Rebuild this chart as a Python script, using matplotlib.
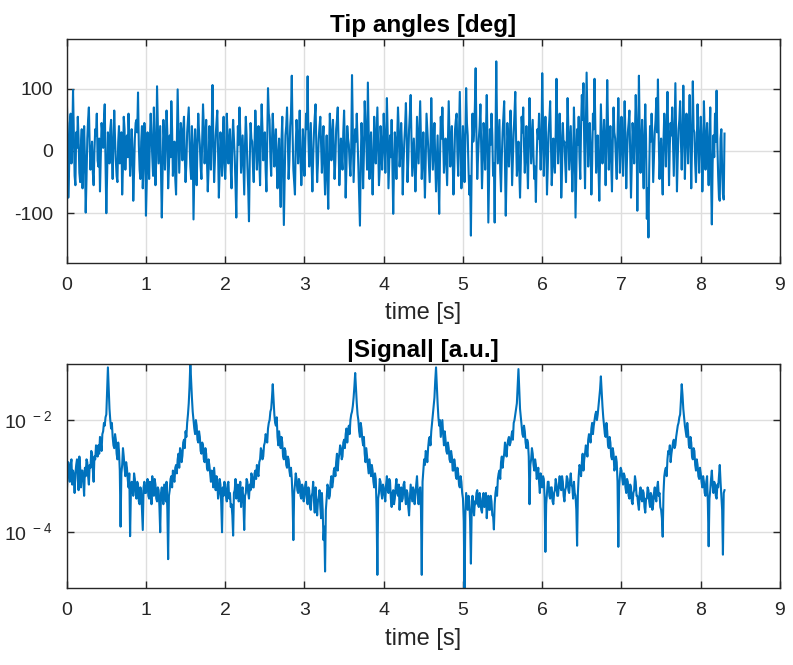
import numpy as np
import matplotlib
matplotlib.use("Agg")
import matplotlib.pyplot as plt

plt.rcParams['font.family'] = ['Liberation Sans', 'DejaVu Sans']
plt.rcParams['mathtext.fontset'] = 'custom'
plt.rcParams['mathtext.rm'] = 'Liberation Sans'
plt.rcParams['axes.unicode_minus'] = False

t_end = 8.3

tip_angles = [
    90, 40, -75, -30, 45, 60, -20, 15, 98, 25, -40, -55, 30, 5, 55, 20, -35, -50, 10, 35,
    -60, -20, 40, -10, -99, -45, 20, 50, 70, 10, -30, -5, 15, -35, -55, 0, 35, 25, 60, -15,
    -25, 20, -65, -10, 45, 30, 5, 50, 75, -20, -100, -40, 30, 10, -20, 35, 50, -5, -45, 15,
    65, 20, -15, -40, -50, 15, 40, -20, 10, 30, -70, -25, 55, 35, -30, 5, 25, -10, 60, 20,
    -40, -15, 35, 5, -80, -35, 20, 45, 50, 30, 94, 10, -30, -45, 15, 40, -60, -20, 45, 25,
    -104, -50, 30, 0, -45, 20, 60, 25, -10, -40, 70, 15, -55, -15, 104, 45, -20, 10, 40, -30,
    -107, -35, 50, 20, -30, 15, 65, 30, -60, -25, 25, -10, 80, 35, -40, -5, 15, -45, -70, 10,
    99, 30, -35, 5, 45, 20, -15, 35, 55, -10, -50, -20, 30, 50, 70, 15, -25, -45, 40, 10,
    -110, -40, 35, -5, -55, 15, 60, 30, 10, -25, -45, 20, 75, 40, -20, 10, 50, -15, -65, -30,
    40, 15, -30, 35, 106, 20, -50, -15, 25, 45, 65, 0, -75, -30, 30, 10, -40, 20, 55, -20,
    -45, -10, 60, 25, -20, 10, 35, -30, -60, 15, 50, 20, -10, -55, -107, -20, 40, 10, 70, 30,
    -35, -5, 25, -20, -70, 10, 55, 25, -25, -60, -113, -15, 45, 20, 15, -25, -50, 5, 65, 30,
    -30, 10, 40, -15, -55, 20, 75, 35, -15, 5, 30, -30, -65, 20, 101, 60, 50, -10, -40, 15,
    60, 25, -25, 10, 35, -20, -60, -5, 20, -40, -90, 15, 55, -30, -119, -45, 25, 40, 70, 20,
    -45, -15, 40, 60, 121, 30, -30, -50, -70, 10, 50, 25, -20, 15, 65, -10, -55, -25, 35, 5,
    -40, 15, 60, 35, 120, 20, -25, 10, 45, -20, -65, -10, 30, 55, 75, 5, -50, -20, 20, 40,
    55, 10, -35, 15, 40, -25, -70, -20, 25, -40, -93, -10, 60, 30, -15, 20, 50, 5, -45, -15,
    35, 50, 70, 15, -55, -20, 20, -10, -30, 30, 65, 10, -75, -25, 40, 20, 10, -20, -40, 5,
    122, 40, -50, -10, 35, 15, 60, 20, -25, -70, -120, -20, 45, 10, -60, -5, 80, 45, 15, -30,
    110, 30, -45, 10, 30, -20, -70, -15, 55, 20, -20, 25, 70, 10, -55, -30, 40, 15, -30, 5,
    60, 20, -35, 15, 85, 30, -60, -15, 25, -10, 50, -30, -101, -25, 30, 10, -45, 20, 70, 35,
    -25, -5, 45, 10, -70, -20, 15, 40, 77, 25, -50, -15, 35, 60, 90, 20, -40, -10, 20, -25,
    -65, -20, 55, 15, -20, 30, 80, 20, -45, -10, 30, -25, -75, -15, 60, 35, 10, -20, -50, 5,
    85, 30, -30, 10, 45, -15, -65, -20, 25, -40, -101, -10, 55, 20, 70, 15, -35, -5, 20, -20,
    -55, 10, 80, 25, -25, 15, 40, -15, -70, -30, 35, 50, 60, -5, -40, 30, 95, 20, -60, -25,
    40, 10, -50, 20, 101, 45, 25, -30, -70, -40, -136, -20, 60, 15, 30, 70, 133, 25, -45, -10,
    20, 40, 75, 10, -60, -15, 45, 20, -30, 30, 90, 15, -115, -40, 35, 10, 60, 25, -40, -20,
    -115, 10, 144, 40, -20, 15, 50, -30, -65, -10, 30, 55, 80, -20, -104, -35, 45, 20, -25, 10,
    65, 25, -55, -10, 30, 60, 95, 20, -40, -15, 15, -30, -75, -20, 55, 30, 70, 10, -35, 5,
    40, -15, -60, 20, 85, 35, -20, 15, 50, -10, -45, -25, -82, -10, 35, 20, 60, 15, -30, 10,
    125, 45, -40, 15, 55, 20, -70, -25, 30, 50, 80, 10, -55, -20, 20, -15, -35, 30, 116, 40,
    -20, 15, 60, 25, -75, -30, 45, 10, 15, -20, -50, 20, 85, 35, -30, 5, 40, -10, -65, -20,
    70, 20, -107, -35, 35, 10, 55, -10, -45, 40, 90, 50, 109, 10, -60, 30, 126, 45, -25, 15,
    45, 5, -70, -20, 60, 35, 116, 40, -35, 10, 25, -30, -80, -10, 75, 30, -20, 10, 50, 15,
    -55, 20, 114, 45, -30, 10, 40, -20, -65, 15, 70, 30, 20, -15, -45, 25, 85, 30, -35, 5,
    55, 15, -40, 20, 80, 25, -60, -10, 30, 45, 65, -5, -75, -20, 45, 20, -20, 30, 90, 35,
    -96, 15, 121, 30, -35, 10, 50, -15, -60, 25, 75, 20, -109, -60, -139, -30, 40, 15, 60, 25,
    -50, -10, 30, 50, 85, 30, 115, 20, -45, -5, 20, -30, -70, 15, 60, 25, -25, 40, 95, 30,
    -55, 10, 45, 25, 70, 15, -40, 30, 109, 20, -65, -10, 35, 50, 80, 15, -30, 25, 105, 40,
    -45, 15, 60, 30, -20, 40, 90, 20, -60, 10, 112, 35, 30, -20, -50, 15, 75, 25, -35, 10,
    55, 20, -65, -15, 80, 30, -30, 15, 45, -10, -55, 20, 70, -40, -118, -20, 25, -10, 60, 15,
    97, 10, -40, -75, -80, 20, 35, -30, -70, -78, 28,
]

# log10 of |Signal|
signal_log10 = [
    -3.35, -3.0, -2.75, -2.95, -3.1, -2.8, -2.7, -3.15, -2.9, -3.0, -3.3, -2.95, -2.8, -2.7, -3.05, -3.25, -2.65, -2.85, -3.2, -2.9,
    -2.9, -3.1, -3.35, -2.85, -3.0, -2.7, -2.75, -3.0, -3.15, -2.8, -2.85, -2.55, -2.6, -2.9, -3.1, -2.65, -2.7, -2.45, -2.5, -2.65,
    -2.45, -2.6, -2.3, -2.4, -2.55, -2.25, -2.2, -2.05, -2.1, -1.95, -1.9, -1.5, -1.06, -1.45, -1.8, -2.0, -2.15, -2.05, -2.3, -2.45,
    -2.5, -2.25, -2.35, -2.6, -2.7, -2.4, -2.55, -2.9, -3.9, -2.95, -2.8, -2.5, -2.65, -2.85, -3.0, -2.75, -2.85, -3.05, -3.2, -2.95,
    -4.07, -3.3, -3.1, -3.25, -3.35, -2.95, -3.05, -3.3, -3.4, -3.1, -3.15, -3.45, -3.5, -3.2, -3.25, -3.6, -3.96, -3.2, -3.1, -3.3,
    -3.3, -3.15, -3.05, -3.35, -3.4, -3.1, -3.2, -3.5, -3.0, -3.25, -3.35, -3.05, -3.15, -3.4, -3.45, -3.2, -3.25, -3.55, -4.0, -3.3,
    -3.2, -3.4, -3.5, -3.15, -3.3, -3.45, -3.1, -3.6, -4.48, -3.35, -3.25, -3.05, -3.0, -3.2, -2.9, -3.05, -3.1, -2.85, -2.8, -2.95,
    -2.7, -2.6, -2.85, -2.5, -2.55, -2.75, -2.64, -2.4, -2.35, -2.5, -2.2, -2.3, -2.05, -1.9, -1.7, -1.4, -0.98, -1.3, -1.6, -1.85,
    -2.0, -2.15, -2.25, -2.0, -2.1, -2.35, -2.4, -2.2, -2.3, -2.55, -2.6, -2.4, -2.45, -2.7, -2.75, -2.5, -2.6, -2.85, -2.9, -2.7,
    -2.8, -2.95, -3.1, -2.9, -3.0, -3.2, -2.85, -3.05, -3.25, -3.0, -3.1, -3.4, -3.3, -3.05, -3.15, -3.5, -4.0, -3.2, -3.35, -3.1,
    -3.2, -3.35, -3.45, -3.15, -3.1, -3.4, -3.3, -3.55, -3.5, -3.7, -4.06, -3.3, -3.25, -3.05, -3.4, -3.2, -3.15, -3.45, -3.35, -3.1,
    -3.55, -3.25, -3.2, -3.5, -3.96, -3.35, -3.3, -3.05, -3.1, -3.3, -3.4, -3.15, -3.25, -2.95, -3.0, -3.2, -3.2, -2.95, -2.9, -3.05,
    -2.8, -2.95, -3.0, -2.75, -2.7, -2.5, -2.55, -2.7, -2.65, -2.45, -2.4, -2.25, -2.3, -2.4, -2.15, -2.05, -2.0, -1.85, -1.8, -1.6,
    -1.36, -1.65, -1.9, -2.05, -2.1, -1.95, -2.3, -2.45, -2.2, -2.35, -2.5, -2.3, -2.4, -2.65, -2.7, -2.5, -2.55, -2.8, -2.85, -2.65,
    -2.7, -2.9, -3.0, -2.85, -3.05, -3.4, -4.14, -3.3, -3.15, -2.95, -3.05, -3.25, -3.3, -3.05, -3.1, -3.35, -3.4, -3.15, -3.2, -3.45,
    -3.35, -3.15, -3.1, -3.4, -3.5, -3.2, -3.25, -3.55, -3.6, -3.35, -3.3, -3.1, -3.45, -3.65, -3.2, -3.4, -3.7, -3.45, -3.4, -3.25,
    -3.55, -3.75, -3.3, -3.6, -4.14, -3.9, -4.7, -3.6, -3.4, -3.15, -3.2, -3.4, -3.35, -3.1, -3.0, -3.2, -3.1, -2.9, -2.85, -3.0,
    -2.75, -2.6, -2.9, -2.7, -2.6, -2.45, -2.5, -2.7, -2.65, -2.4, -2.35, -2.5, -2.25, -2.15, -2.4, -2.2, -2.1, -2.25, -2.0, -1.9,
    -1.85, -1.75, -1.6, -1.4, -1.16, -1.45, -1.7, -1.9, -2.0, -2.2, -2.3, -2.05, -2.15, -2.35, -2.45, -2.3, -2.6, -2.75, -2.5, -2.65,
    -2.8, -2.95, -2.7, -2.85, -3.0, -2.8, -2.9, -3.1, -3.2, -2.95, -3.05, -3.6, -4.76, -3.4, -3.3, -3.05, -3.1, -3.3, -3.4, -3.15,
    -3.2, -3.35, -3.45, -3.15, -3.0, -3.25, -3.3, -3.05, -3.1, -3.4, -3.55, -3.3, -3.25, -3.5, -3.4, -3.2, -3.05, -3.3, -3.35, -3.15,
    -3.6, -3.35, -3.2, -3.45, -3.4, -3.15, -3.1, -3.35, -3.5, -3.25, -3.3, -3.55, -3.7, -3.4, -3.15, -3.3, -3.45, -3.2, -3.25, -3.5,
    -3.35, -3.15, -3.0, -3.3, -3.5, -3.25, -3.2, -3.6, -4.76, -3.1, -2.9, -2.7, -2.8, -2.55, -2.6, -2.75, -2.5, -2.35, -2.3, -2.45,
    -2.2, -2.05, -1.9, -1.75, -1.6, -1.3, -1.06, -1.4, -1.7, -1.95, -2.1, -2.0, -2.3, -2.15, -2.0, -2.25, -2.45, -2.2, -2.35, -2.55,
    -2.6, -2.4, -2.5, -2.7, -2.75, -2.55, -2.65, -2.9, -2.9, -2.7, -2.8, -3.0, -3.05, -2.85, -2.95, -3.15, -3.2, -3.0, -3.1, -3.3,
    -3.4, -3.8, -5.1, -3.7, -3.3, -3.45, -3.6, -3.35, -3.45, -3.8, -4.56, -3.6, -3.35, -3.55, -3.7, -3.45, -3.5, -3.3, -3.25, -3.5,
    -3.55, -3.3, -3.4, -3.6, -3.65, -3.4, -3.3, -3.55, -3.5, -3.3, -3.75, -3.5, -3.35, -3.6, -3.6, -3.35, -3.45, -3.7, -3.7, -3.95,
    -3.5, -3.3, -3.2, -3.35, -3.05, -2.95, -2.9, -3.05, -2.75, -2.65, -2.85, -2.7, -2.6, -2.4, -2.5, -2.65, -2.45, -2.35, -2.3, -2.45,
    -2.4, -2.3, -2.2, -2.35, -2.05, -2.0, -1.9, -1.8, -1.7, -1.4, -1.09, -1.45, -1.8, -1.95, -2.1, -2.25, -2.3, -2.1, -2.2, -2.4,
    -2.5, -2.35, -2.4, -2.65, -3.5, -2.8, -2.7, -2.5, -2.6, -2.8, -2.9, -2.7, -2.8, -3.05, -3.0, -2.85, -3.1, -3.3, -2.95, -3.1,
    -3.2, -3.0, -3.05, -3.4, -4.35, -3.5, -3.3, -3.1, -3.1, -3.35, -3.4, -3.2, -3.2, -3.45, -3.5, -3.3, -3.25, -3.05, -3.15, -3.35,
    -3.35, -3.15, -3.0, -3.2, -3.25, -3.0, -3.1, -3.35, -3.45, -3.25, -3.2, -3.0, -3.05, -3.25, -3.3, -3.1, -2.95, -3.15, -3.2, -3.4,
    -3.1, -3.3, -3.35, -3.6, -4.24, -3.3, -3.0, -2.8, -2.85, -3.0, -2.75, -2.6, -2.9, -2.7, -2.6, -2.45, -2.5, -2.65, -2.35, -2.25,
    -2.3, -2.4, -2.15, -2.05, -2.25, -2.1, -2.0, -1.9, -1.85, -2.0, -1.9, -1.75, -1.6, -1.45, -1.22, -1.5, -1.75, -1.95, -2.1, -2.25,
    -2.3, -2.05, -2.2, -2.45, -2.5, -2.3, -2.4, -2.65, -2.7, -2.5, -2.6, -2.9, -2.85, -2.65, -2.75, -3.1, -4.26, -3.2, -3.0, -2.85,
    -2.9, -3.05, -3.15, -2.95, -3.0, -3.2, -3.3, -3.05, -3.1, -3.35, -3.4, -3.15, -3.2, -3.45, -3.5, -3.3, -3.25, -3.0, -3.1, -3.35,
    -3.35, -3.5, -3.6, -3.3, -3.2, -3.4, -3.45, -3.25, -3.3, -3.55, -3.65, -3.4, -3.4, -3.2, -3.25, -3.45, -3.55, -3.3, -3.35, -3.6,
    -3.5, -3.3, -3.2, -3.4, -3.45, -3.2, -3.1, -3.35, -3.3, -3.55, -3.6, -3.75, -4.08, -3.3, -3.0, -2.9, -2.85, -3.0, -2.7, -2.55,
    -2.6, -2.45, -2.75, -2.6, -2.5, -2.4, -2.35, -2.5, -2.45, -2.3, -2.2, -2.1, -2.05, -1.95, -1.9, -1.65, -1.36, -1.55, -1.8, -1.95,
    -2.1, -2.2, -2.3, -2.05, -2.2, -2.45, -2.5, -2.3, -2.4, -2.65, -2.7, -2.5, -2.55, -2.8, -2.9, -2.7, -2.8, -3.0, -3.05, -2.85,
    -2.95, -3.1, -3.2, -3.0, -3.1, -3.3, -3.35, -3.1, -3.0, -3.5, -4.25, -3.4, -3.25, -3.05, -2.9, -3.15, -3.3, -3.1, -3.15, -3.35,
    -3.4, -3.15, -3.2, -3.0, -2.8, -3.1, -3.35, -3.6, -4.4, -3.3, -3.25,
]

x_ticks = [0, 1, 2, 3, 4, 5, 6, 7, 8, 9]
top_yticks = [-100, 0, 100]
bottom_yticks = [1e-4, 1e-2]
bottom_yticklabels = [r'$10^{\ -4}$', r'$10^{\ -2}$']

line_color = '#0072BD'
ax_color = '#262626'

t_top = np.linspace(0, t_end, len(tip_angles))
t_bot = np.linspace(0, t_end, len(signal_log10))
signal = 10.0 ** np.array(signal_log10)

fig = plt.figure(figsize=(7.93, 6.65), dpi=100)
ax1 = fig.add_axes([0.0841, 0.6045, 0.8995, 0.3369])
ax2 = fig.add_axes([0.0841, 0.1153, 0.8995, 0.3373])

def style(ax):
    ax.set_xlim(0, 9)
    ax.set_xticks(x_ticks)
    ax.grid(True, color='#dedede', linewidth=1.0)
    ax.set_axisbelow(True)
    for s in ax.spines.values():
        s.set_color(ax_color)
        s.set_linewidth(1.0)
    ax.tick_params(direction='in', top=True, right=True, length=5,
                   width=1.0, color=ax_color, labelcolor=ax_color,
                   labelsize=14, pad=10)
    ax.minorticks_off()
    ax.set_xlabel('time [s]', fontsize=17, color=ax_color, labelpad=6)

ax1.plot(t_top, tip_angles, color=line_color, linewidth=1.5)
ax1.set_ylim(-180, 180)
ax1.set_yticks(top_yticks)
ax1.set_title('Tip angles [deg]', fontsize=17.5, fontweight='bold', pad=5)
style(ax1)

ax2.plot(t_bot, signal, color=line_color, linewidth=1.5)
ax2.set_yscale('log')
ax2.set_ylim(1e-5, 1e-1)
ax2.set_yticks(bottom_yticks)
ax2.set_yticklabels(bottom_yticklabels)
ax2.set_title('|Signal| [a.u.]', fontsize=17.5, fontweight='bold', pad=5)
style(ax2)
ax2.minorticks_off()

fig.savefig('out.png', dpi=100)
